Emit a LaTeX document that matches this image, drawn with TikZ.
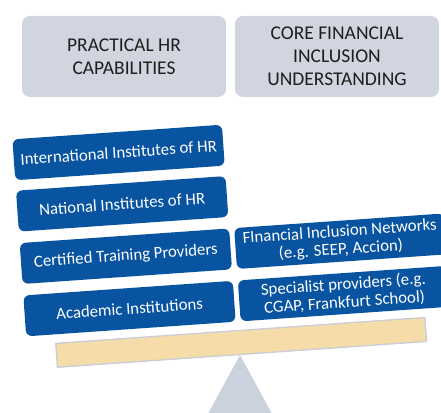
\documentclass[tikz,border=0pt]{standalone}
\usepackage{fontspec}
\setmainfont{Carlito}
\definecolor{hdrfill}{RGB}{208,213,223}
\definecolor{hdrtext}{RGB}{30,30,30}
\definecolor{bluebox}{RGB}{8,84,160}
\definecolor{plankfill}{RGB}{246,220,169}
\definecolor{plankline}{RGB}{200,205,215}
\definecolor{fulcrum}{RGB}{203,209,221}
\tikzset{
  header/.style={fill=hdrfill, rounded corners=8pt, minimum width=204pt, minimum height=81pt,
    text=hdrtext, align=center, inner sep=0pt, font=\fontsize{19.5}{23}\selectfont},
  bluecell/.style={fill=bluebox, rounded corners=6pt, minimum width=210pt, minimum height=41pt,
    text=white, align=center, inner sep=0pt, font=\fontsize{16.8}{18}\selectfont},
  plank/.style={fill=plankfill, draw=plankline, line width=1.3pt, minimum width=370pt, minimum height=24pt, inner sep=0pt}
}
\begin{document}
\begin{tikzpicture}[x=1pt,y=1pt]
\useasboundingbox (0,0) rectangle (441,412);
\clip (0,0) rectangle (441,412);
\node[header] (h1) at (124,355.5) {PRACTICAL HR\\CAPABILITIES};
\node[header] (h2) at (337,355.5) {CORE FINANCIAL\\INCLUSION\\UNDERSTANDING};
\fill[fulcrum] (240,57) -- (276.5,-10) -- (203.5,-10) -- cycle;
\begin{scope}[shift={(240,57)}, rotate=4, transform shape]
  \node[plank] (pl) at (2,12.5) {};
  \node[bluecell] (b1) at (-107,210.5) {International Institutes of HR};
  \node[bluecell] (b2) at (-107,159) {National Institutes of HR};
  \node[bluecell] (b3) at (-107,106.5) {Certified Training Providers};
  \node[bluecell] (b4) at (108,106.5) {FInancial Inclusion Networks\\(e.g. SEEP, Accion)};
  \node[bluecell] (b5) at (-107,54) {Academic Institutions};
  \node[bluecell] (b6) at (108,54) {Specialist providers (e.g.\\CGAP, Frankfurt School)};
\end{scope}
\end{tikzpicture}
\end{document}
